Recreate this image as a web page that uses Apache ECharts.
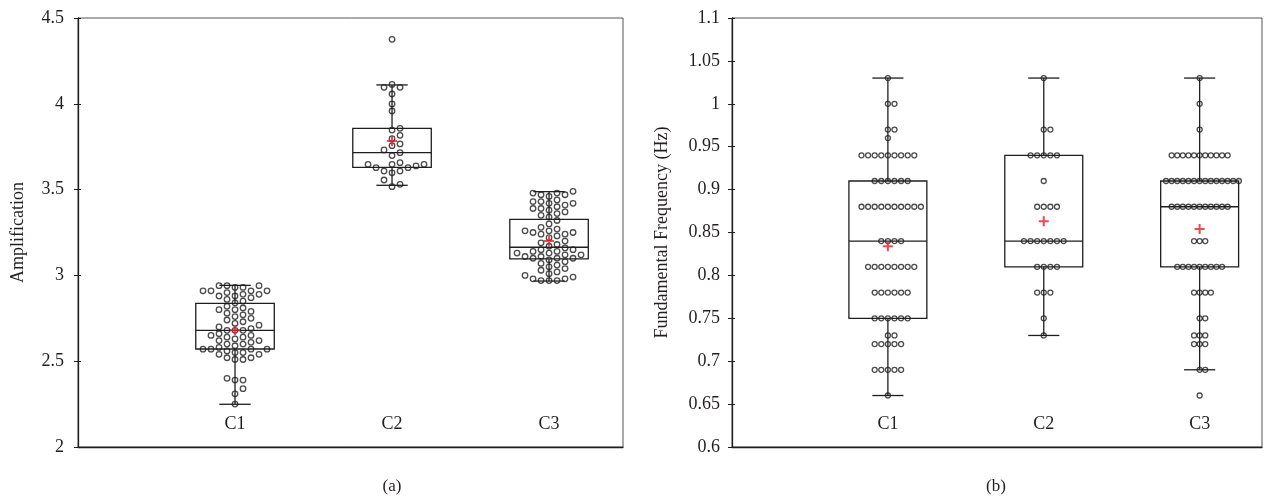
<!DOCTYPE html>
<html>
<head>
<meta charset="utf-8">
<script src="https://cdn.jsdelivr.net/npm/echarts@6/dist/echarts.min.js"></script>
<style>
html,body{margin:0;padding:0;background:#fff;}
#chart{width:1271px;height:500px;}
</style>
</head>
<body>
<div id="chart"></div>
<script>
// ---------- data ----------
const categories = ['C1', 'C2', 'C3'];

// Panel (a): Amplification
const ampC1 = [2.25,2.31,2.34,2.39,2.39,2.40,2.51,2.51,2.52,2.52,2.54,2.54,2.55,2.55,2.56,
  2.57,2.57,2.57,2.57,2.58,2.59,2.60,2.60,2.61,2.62,2.62,2.63,2.64,2.64,2.65,2.65,2.66,
  2.68,2.68,2.68,2.69,2.70,2.71,2.72,2.73,2.74,2.75,2.76,2.77,2.78,2.79,2.80,2.80,2.81,2.82,
  2.84,2.85,2.86,2.87,2.88,2.88,2.89,2.89,2.90,2.91,2.91,2.91,2.91,2.93,2.93,2.94,2.94,2.94];
const ampC2 = [3.517,3.531,3.556,3.598,3.608,3.608,3.628,3.628,3.638,3.647,3.647,3.647,3.657,
  3.698,3.715,3.731,3.756,3.766,3.797,3.816,3.847,3.857,3.958,3.999,4.057,4.096,4.096,4.113,4.376];
const ampC3 = [2.97,2.97,2.97,2.98,2.98,2.99,3.00,3.01,3.02,3.03,3.04,3.05,3.06,3.07,3.08,3.09,
  3.10,3.10,3.10,3.11,3.11,3.12,3.12,3.13,3.13,3.14,3.14,3.15,3.15,3.16,
  3.17,3.18,3.19,3.20,3.22,3.23,3.24,3.24,3.25,3.25,3.26,3.26,3.27,3.28,3.30,3.32,
  3.34,3.35,3.36,3.37,3.38,3.39,3.39,3.40,3.41,3.42,3.42,3.43,3.43,3.44,3.46,3.47,3.47,3.48,3.48,3.49];
// box stats [min, Q1, median, Q3, max]
const ampBox = [[2.249,2.571,2.680,2.837,2.942],[3.525,3.630,3.715,3.857,4.110],[2.967,3.096,3.164,3.327,3.488]];
const ampMean = [2.68, 3.783, 3.20];

// Panel (b): Fundamental frequency (Hz)
const freqC1 = [0.66,0.69,0.69,0.69,0.69,0.69,0.72,0.72,0.72,0.72,0.72,0.73,0.73,
  0.75,0.75,0.75,0.75,0.75,0.75,0.78,0.78,0.78,0.78,0.78,0.78,
  0.81,0.81,0.81,0.81,0.81,0.81,0.81,0.81,0.84,0.84,0.84,0.84,
  0.88,0.88,0.88,0.88,0.88,0.88,0.88,0.88,0.88,0.88,
  0.91,0.91,0.91,0.91,0.91,0.91,0.94,0.94,0.94,0.94,0.94,0.94,0.94,0.94,0.94,
  0.96,0.97,0.97,1.00,1.00,1.03];
const freqC2 = [0.73,0.75,0.78,0.78,0.78,0.81,0.81,0.81,0.81,
  0.84,0.84,0.84,0.84,0.84,0.84,0.84,0.88,0.88,0.88,0.88,0.91,
  0.94,0.94,0.94,0.94,0.94,0.97,0.97,1.03];
const freqC3 = [0.66,0.69,0.69,0.72,0.72,0.72,0.73,0.73,0.73,0.75,0.75,
  0.78,0.78,0.78,0.78,0.81,0.81,0.81,0.81,0.81,0.81,0.81,0.81,0.81,
  0.84,0.84,0.84,0.88,0.88,0.88,0.88,0.88,0.88,0.88,0.88,0.88,0.88,0.88,
  0.91,0.91,0.91,0.91,0.91,0.91,0.91,0.91,0.91,0.91,0.91,0.91,0.91,0.91,
  0.94,0.94,0.94,0.94,0.94,0.94,0.94,0.94,0.94,0.94,0.94,0.97,1.00,1.03];
const freqBox = [[0.66,0.75,0.84,0.91,1.03],[0.73,0.81,0.84,0.94,1.03],[0.69,0.81,0.88,0.91,1.03]];
const freqMean = [0.834, 0.863, 0.854];

const ampTicks = {min: 2, max: 4.5, interval: 0.5};
const freqTicks = {min: 0.6, max: 1.1, interval: 0.05};

// ---------- styling ----------
const FONT = "'Liberation Serif','DejaVu Serif',serif";
const TXT = '#231f20';
const BOX_W = 0.5, CAP_W = 0.2;

const chart = echarts.init(document.getElementById('chart'), null, {renderer: 'canvas'});

function renderBox(params, api) {
  const x = api.value(0);
  const pMin = api.coord([x, api.value(1)]);
  const pQ1 = api.coord([x, api.value(2)]);
  const pMed = api.coord([x, api.value(3)]);
  const pQ3 = api.coord([x, api.value(4)]);
  const pMax = api.coord([x, api.value(5)]);
  const bw = api.size([BOX_W, 0])[0];
  const cw = api.size([CAP_W, 0])[0];
  const cx = pMin[0];
  const st = {stroke: '#1e1e1e', lineWidth: 1.3, fill: 'transparent'};
  const ln = (x1, y1, x2, y2) => ({type: 'line', shape: {x1, y1, x2, y2}, style: st});
  return {type: 'group', children: [
    {type: 'rect', shape: {x: cx - bw / 2, y: pQ3[1], width: bw, height: pQ1[1] - pQ3[1]}, style: st},
    ln(cx - bw / 2, pMed[1], cx + bw / 2, pMed[1]),
    ln(cx, pQ3[1], cx, pMax[1]),
    ln(cx, pQ1[1], cx, pMin[1]),
    ln(cx - cw / 2, pMax[1], cx + cw / 2, pMax[1]),
    ln(cx - cw / 2, pMin[1], cx + cw / 2, pMin[1])
  ]};
}

function xAxisFor(gridIndex, max) {
  return {
    type: 'value', gridIndex, min: 0, max, interval: 1,
    axisLine: {show: true, lineStyle: {color: '#1e1e1e', width: 1.3}},
    axisTick: {show: false}, splitLine: {show: false},
    axisLabel: {
      inside: true, margin: 14, fontFamily: FONT, fontSize: 18, color: TXT,
      formatter: v => { const i = Math.round(v); return (Math.abs(v - i) < 1e-6 && categories[i - 1]) ? categories[i - 1] : ''; }
    }
  };
}
function yAxesFor(gridIndex, t, name, gap, margin) {
  return [{
    type: 'value', gridIndex, position: 'left', min: t.min, max: t.max, interval: t.interval,
    name, nameLocation: 'middle', nameGap: gap,
    nameTextStyle: {fontFamily: FONT, fontSize: 18, color: TXT},
    axisLine: {show: true, lineStyle: {color: '#1e1e1e', width: 1.3}},
    axisTick: {show: true, length: 4, lineStyle: {color: '#1e1e1e'}},
    splitLine: {show: false},
    axisLabel: {margin, fontFamily: FONT, fontSize: 18, color: TXT}
  }, {
    type: 'value', gridIndex, position: 'left', min: t.min, max: t.max, interval: t.interval,
    axisLine: {show: false}, axisLabel: {show: false}, splitLine: {show: false},
    axisTick: {show: true, inside: true, length: 3, lineStyle: {color: '#1e1e1e'}}
  }];
}

const boxDataA = ampBox.map((b, i) => [i + 1].concat(b));
const boxDataB = freqBox.map((b, i) => [i + 1].concat(b));
const meanA = ampMean.map((m, i) => [i + 1, m]);
const meanB = freqMean.map((m, i) => [i + 1, m]);
const PLUS = 'path://M4,0h2v4h4v2h-4v4h-2v-4h-4v-2h4z';

chart.setOption({
  animation: false,
  backgroundColor: '#fff',
  grid: [
    {left: 78, top: 18, width: 545, height: 429, show: true, borderColor: '#555', borderWidth: 1},
    {left: 732, top: 18, width: 530, height: 429, show: true, borderColor: '#555', borderWidth: 1}
  ],
  xAxis: [xAxisFor(0, 3.471), xAxisFor(1, 3.4)],
  yAxis: yAxesFor(0, ampTicks, 'Amplification', 51, 14).concat(yAxesFor(1, freqTicks, 'Fundamental Frequency (Hz)', 61, 12)),
  series: [
    {type: 'custom', xAxisIndex: 0, yAxisIndex: 0, renderItem: renderBox, data: boxDataA, z: 2, silent: true},
    {type: 'custom', xAxisIndex: 1, yAxisIndex: 2, renderItem: renderBox, data: boxDataB, z: 2, silent: true}
  ],
  graphic: [
    {type: 'text', x: 392, y: 487, style: {text: '(a)', align: 'center', verticalAlign: 'middle', fontFamily: FONT, fontSize: 17, fill: TXT}},
    {type: 'text', x: 996, y: 487, style: {text: '(b)', align: 'center', verticalAlign: 'middle', fontFamily: FONT, fontSize: 17, fill: TXT}}
  ]
});

// beeswarm layout computed through the chart's own scales
function swarm(values, xc, seriesIndex, step, minDy) {
  const sorted = values.slice().sort((a, b) => a - b);
  const p0 = chart.convertToPixel({seriesIndex}, [xc, 0])[0];
  const unit = chart.convertToPixel({seriesIndex}, [xc + 1, 0])[0] - p0;
  const placed = [];
  const out = [];
  sorted.forEach(v => {
    const py = chart.convertToPixel({seriesIndex}, [xc, v])[1];
    let k = 0, col = 0;
    while (true) {
      col = k === 0 ? 0 : (k % 2 ? (k + 1) / 2 : -k / 2);
      const hit = placed.some(p => p.col === col && Math.abs(p.py - py) < minDy);
      if (!hit) break;
      k++;
    }
    placed.push({col, py});
    out.push([xc + col * step / unit, v]);
  });
  return out;
}

const dotsA = [].concat(swarm(ampC1, 1, 0, 8, 6.5), swarm(ampC2, 2, 0, 8, 7), swarm(ampC3, 3, 0, 8, 6.5));
const dotsB = [].concat(swarm(freqC1, 1, 1, 6.6, 4.2), swarm(freqC2, 2, 1, 6.6, 4.2), swarm(freqC3, 3, 1, 5.6, 4.2));

const dotStyle = {color: 'transparent', borderColor: '#1e1e1e', borderWidth: 1.3};
chart.setOption({
  series: [
    {type: 'custom', xAxisIndex: 0, yAxisIndex: 0, renderItem: renderBox, data: boxDataA, z: 2, silent: true},
    {type: 'custom', xAxisIndex: 1, yAxisIndex: 2, renderItem: renderBox, data: boxDataB, z: 2, silent: true},
    {type: 'scatter', xAxisIndex: 0, yAxisIndex: 0, data: dotsA, symbol: 'circle', symbolSize: 5.5, itemStyle: dotStyle, z: 3, silent: true},
    {type: 'scatter', xAxisIndex: 1, yAxisIndex: 2, data: dotsB, symbol: 'circle', symbolSize: 5, itemStyle: dotStyle, z: 3, silent: true},
    {type: 'scatter', xAxisIndex: 0, yAxisIndex: 0, data: meanA, symbol: PLUS, symbolSize: 10, itemStyle: {color: '#ee1c25'}, z: 4, silent: true},
    {type: 'scatter', xAxisIndex: 1, yAxisIndex: 2, data: meanB, symbol: PLUS, symbolSize: 10, itemStyle: {color: '#ee1c25'}, z: 4, silent: true}
  ]
});
</script>
</body>
</html>
